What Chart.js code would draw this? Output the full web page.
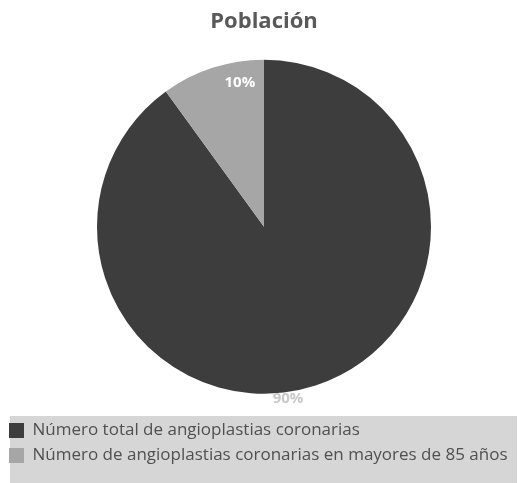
<!DOCTYPE html>
<html>
<head>
<meta charset="utf-8">
<script src="https://cdn.jsdelivr.net/npm/chart.js@4"></script>
<style>
  html, body { margin: 0; padding: 0; background: #ffffff; }
  #wrap { width: 520px; height: 483px; }
</style>
</head>
<body>
<div id="wrap"><canvas id="grafico" width="520" height="483"></canvas></div>
<script>
// datos del grafico
let categorias = [
  "Número total de angioplastias coronarias",
  "Número de angioplastias coronarias en mayores de 85 años"
];
let valores = [90, 10];
let etiquetas = ["90%", "10%"];

// fondo gris de la leyenda
const fondoLeyenda = {
  id: "fondoLeyenda",
  afterLayout(chart) {
    let l = chart.legend;
    l.left -= 7;
    l.right -= 7;
    l.top += 3;
    l.bottom += 3;
  },
  beforeDraw(chart) {
    let ctx = chart.ctx;
    ctx.save();
    ctx.fillStyle = "#d6d6d6";
    ctx.fillRect(10, 416, 507, chart.height - 416);
    ctx.restore();
  }
};

// porcentajes sobre el pastel
const etiquetasPastel = {
  id: "etiquetasPastel",
  afterDatasetsDraw(chart, args, opts) {
    let ctx = chart.ctx;
    let arcos = chart.getDatasetMeta(0).data;
    ctx.save();
    ctx.font = "bold 15px 'Open Sans'";
    ctx.textAlign = "center";
    ctx.textBaseline = "middle";
    arcos.forEach((arco, i) => {
      let p = opts.posiciones[i];
      let ang = arco.startAngle + (arco.endAngle - arco.startAngle) * p.t;
      let r = arco.outerRadius * p.r;
      ctx.fillStyle = opts.colores[i];
      ctx.fillText(etiquetas[i], arco.x + Math.cos(ang) * r, arco.y + Math.sin(ang) * r);
    });
    ctx.restore();
  }
};

let ctx = document.getElementById("grafico").getContext("2d");

new Chart(ctx, {
  type: "pie",
  data: {
    labels: categorias,
    datasets: [{
      data: valores,
      backgroundColor: ["#3d3d3d", "#a6a6a6"],
      borderWidth: 0,
      radius: 167
    }]
  },
  options: {
    responsive: false,
    animation: false,
    layout: { padding: { left: 8, right: 0, top: 0, bottom: 12 } },
    plugins: {
      title: {
        display: true,
        text: "Población",
        color: "#595959",
        font: { family: "'Open Sans'", size: 22, weight: "bold" },
        padding: { top: 9, bottom: 7 }
      },
      legend: {
        position: "bottom",
        align: "start",
        labels: {
          color: "#505050",
          font: { family: "'Open Sans'", size: 17 },
          boxWidth: 15,
          boxHeight: 15,
          padding: 8
        }
      },
      tooltip: { enabled: false },
      etiquetasPastel: {
        posiciones: [{ t: 0.531, r: 1.04 }, { t: 0.736, r: 0.875 }],
        colores: ["#c8c8c8", "#ffffff"]
      }
    }
  },
  plugins: [fondoLeyenda, etiquetasPastel]
});
</script>
</body>
</html>
